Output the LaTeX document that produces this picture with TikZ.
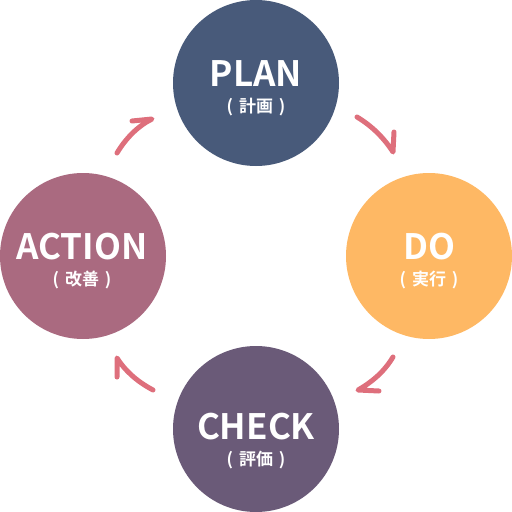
\documentclass[tikz,border=0pt]{standalone}
\usepackage{fontspec}
\setmainfont{Noto Sans CJK JP}[BoldFont={Noto Sans CJK JP Bold}]
\begin{document}
\begin{tikzpicture}[x=1pt,y=-1pt]
\definecolor{planc}{HTML}{485A7A}
\definecolor{doc}{HTML}{FEB864}
\definecolor{checkc}{HTML}{6A5A78}
\definecolor{actc}{HTML}{AA6A80}
\definecolor{arrc}{HTML}{DE6F7C}
\tikzset{
  phase/.style={circle, minimum size=166pt, inner sep=0pt, draw=none},
  ttl/.style={text=white, font=\bfseries\fontsize{35}{35}\selectfont, anchor=base, inner sep=0pt},
  sub/.style={text=white, font=\bfseries\fontsize{17}{17}\selectfont, anchor=base, inner sep=0pt},
  arr/.style={draw=arrc, line width=5pt, line cap=round, line join=round}
}
\useasboundingbox (0,0) rectangle (512,512);
\node[phase, fill=planc] (plan) at (256,83) {};
\node[phase, fill=doc] (do) at (429,256) {};
\node[phase, fill=checkc] (check) at (256,429) {};
\node[phase, fill=actc] (act) at (83,256) {};
\node[ttl] (planT) at (256,86) {PLAN};
\node[sub] (planS) at (256,112) {(\hspace{0.35em}計画\hspace{0.35em})};
\node[ttl] (doT) at (429,259) {DO};
\node[sub] (doS) at (429,285) {(\hspace{0.35em}実行\hspace{0.35em})};
\node[ttl] (checkT) at (256,439) {CHECK};
\node[sub] (checkS) at (256,465) {(\hspace{0.35em}評価\hspace{0.35em})};
\node[ttl] (actT) at (82,259) {ACTION};
\node[sub] (actS) at (82,285) {(\hspace{0.35em}改善\hspace{0.35em})};
% arrows
\coordinate (a1s) at (357,117); \coordinate (a1e) at (393,152); \coordinate (a1b) at (394,132);
\draw[arr] (a1s) .. controls (372,126) and (384,138) .. (a1e) -- (a1b);
\coordinate (a2s) at (393,357); \coordinate (a2e) at (358,390); \coordinate (a2b) at (379,391);
\draw[arr] (a2s) .. controls (384,372) and (372,382) .. (a2e) -- (a2b);
\coordinate (a3s) at (153,390); \coordinate (a3e) at (117,358); \coordinate (a3b) at (117,377);
\draw[arr] (a3s) .. controls (138,382) and (126,372) .. (a3e) -- (a3b);
\coordinate (a4s) at (117,153); \coordinate (a4e) at (152,119); \coordinate (a4b) at (132,121);
\draw[arr] (a4s) .. controls (126,138) and (138,126) .. (a4e) -- (a4b);
\end{tikzpicture}
\end{document}
